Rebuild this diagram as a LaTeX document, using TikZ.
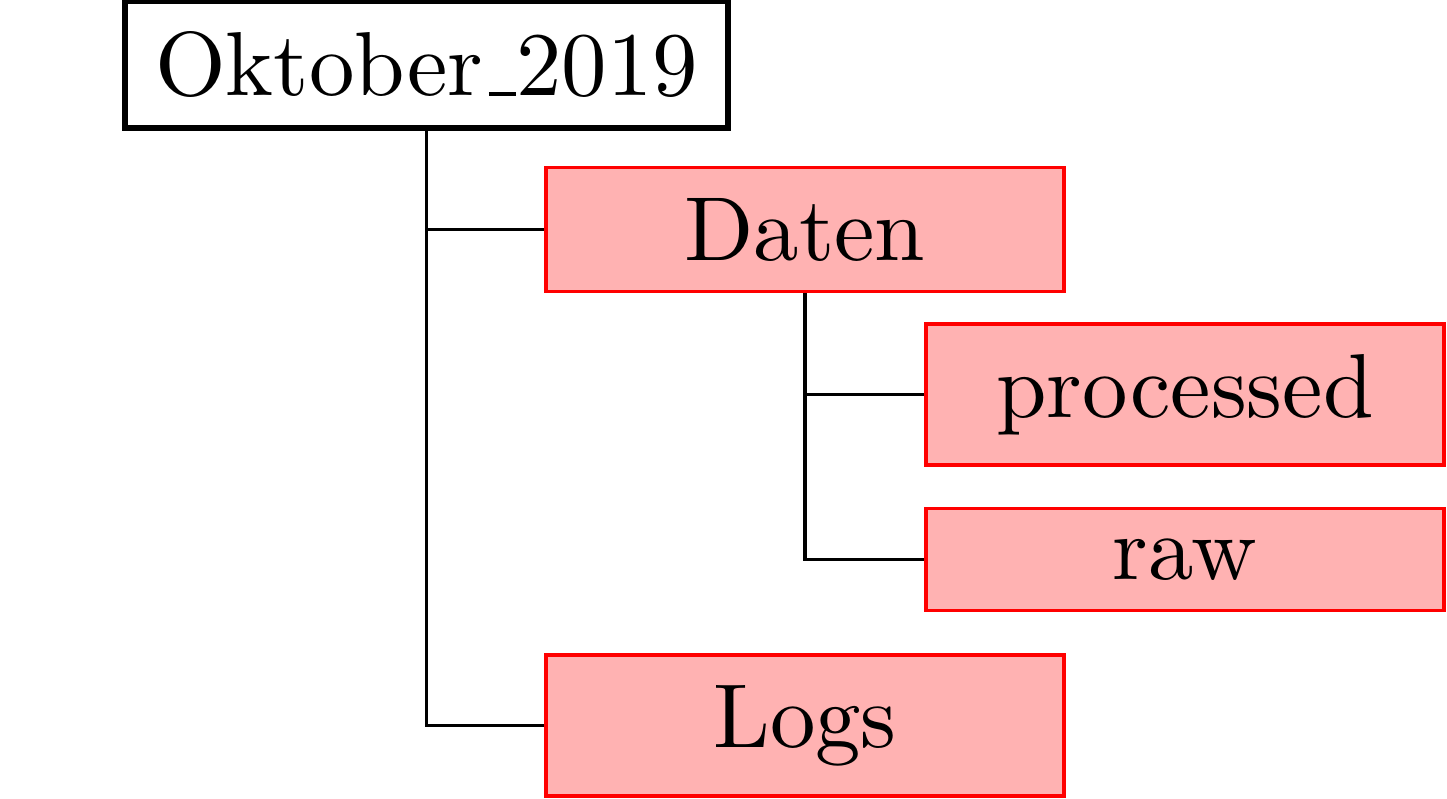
\documentclass[tikz,border=0pt]{standalone}
\newcommand{\otundersc}{\leavevmode\kern.06em\vbox{\hrule width.3em}}
\begin{document}
\begin{tikzpicture}[x=0.1101pt,y=-0.1101pt,
  rootbox/.style={draw=black,line width=0.65pt,fill=white},
  dirbox/.style={draw=red,line width=0.38pt,fill=red!30,minimum width=57.0pt},
  link/.style={draw=black,line width=0.36pt}]
\useasboundingbox (0,0) rectangle (1447,798);
\node[rootbox] (root) at (426.5,64.5) {Oktober\otundersc 2019};
\node[dirbox] (daten) at (805,229.5) {Daten};
\node[dirbox] (proc) at (1185,394.5) {processed};
\node[dirbox] (raw) at (1185,559.5) {raw};
\node[dirbox] (logs) at (805,725.5) {Logs};
\draw[link] (root.south) |- (daten.west);
\draw[link] (root.south) |- (logs.west);
\draw[link] (daten.south) |- (proc.west);
\draw[link] (daten.south) |- (raw.west);
\end{tikzpicture}
\end{document}
